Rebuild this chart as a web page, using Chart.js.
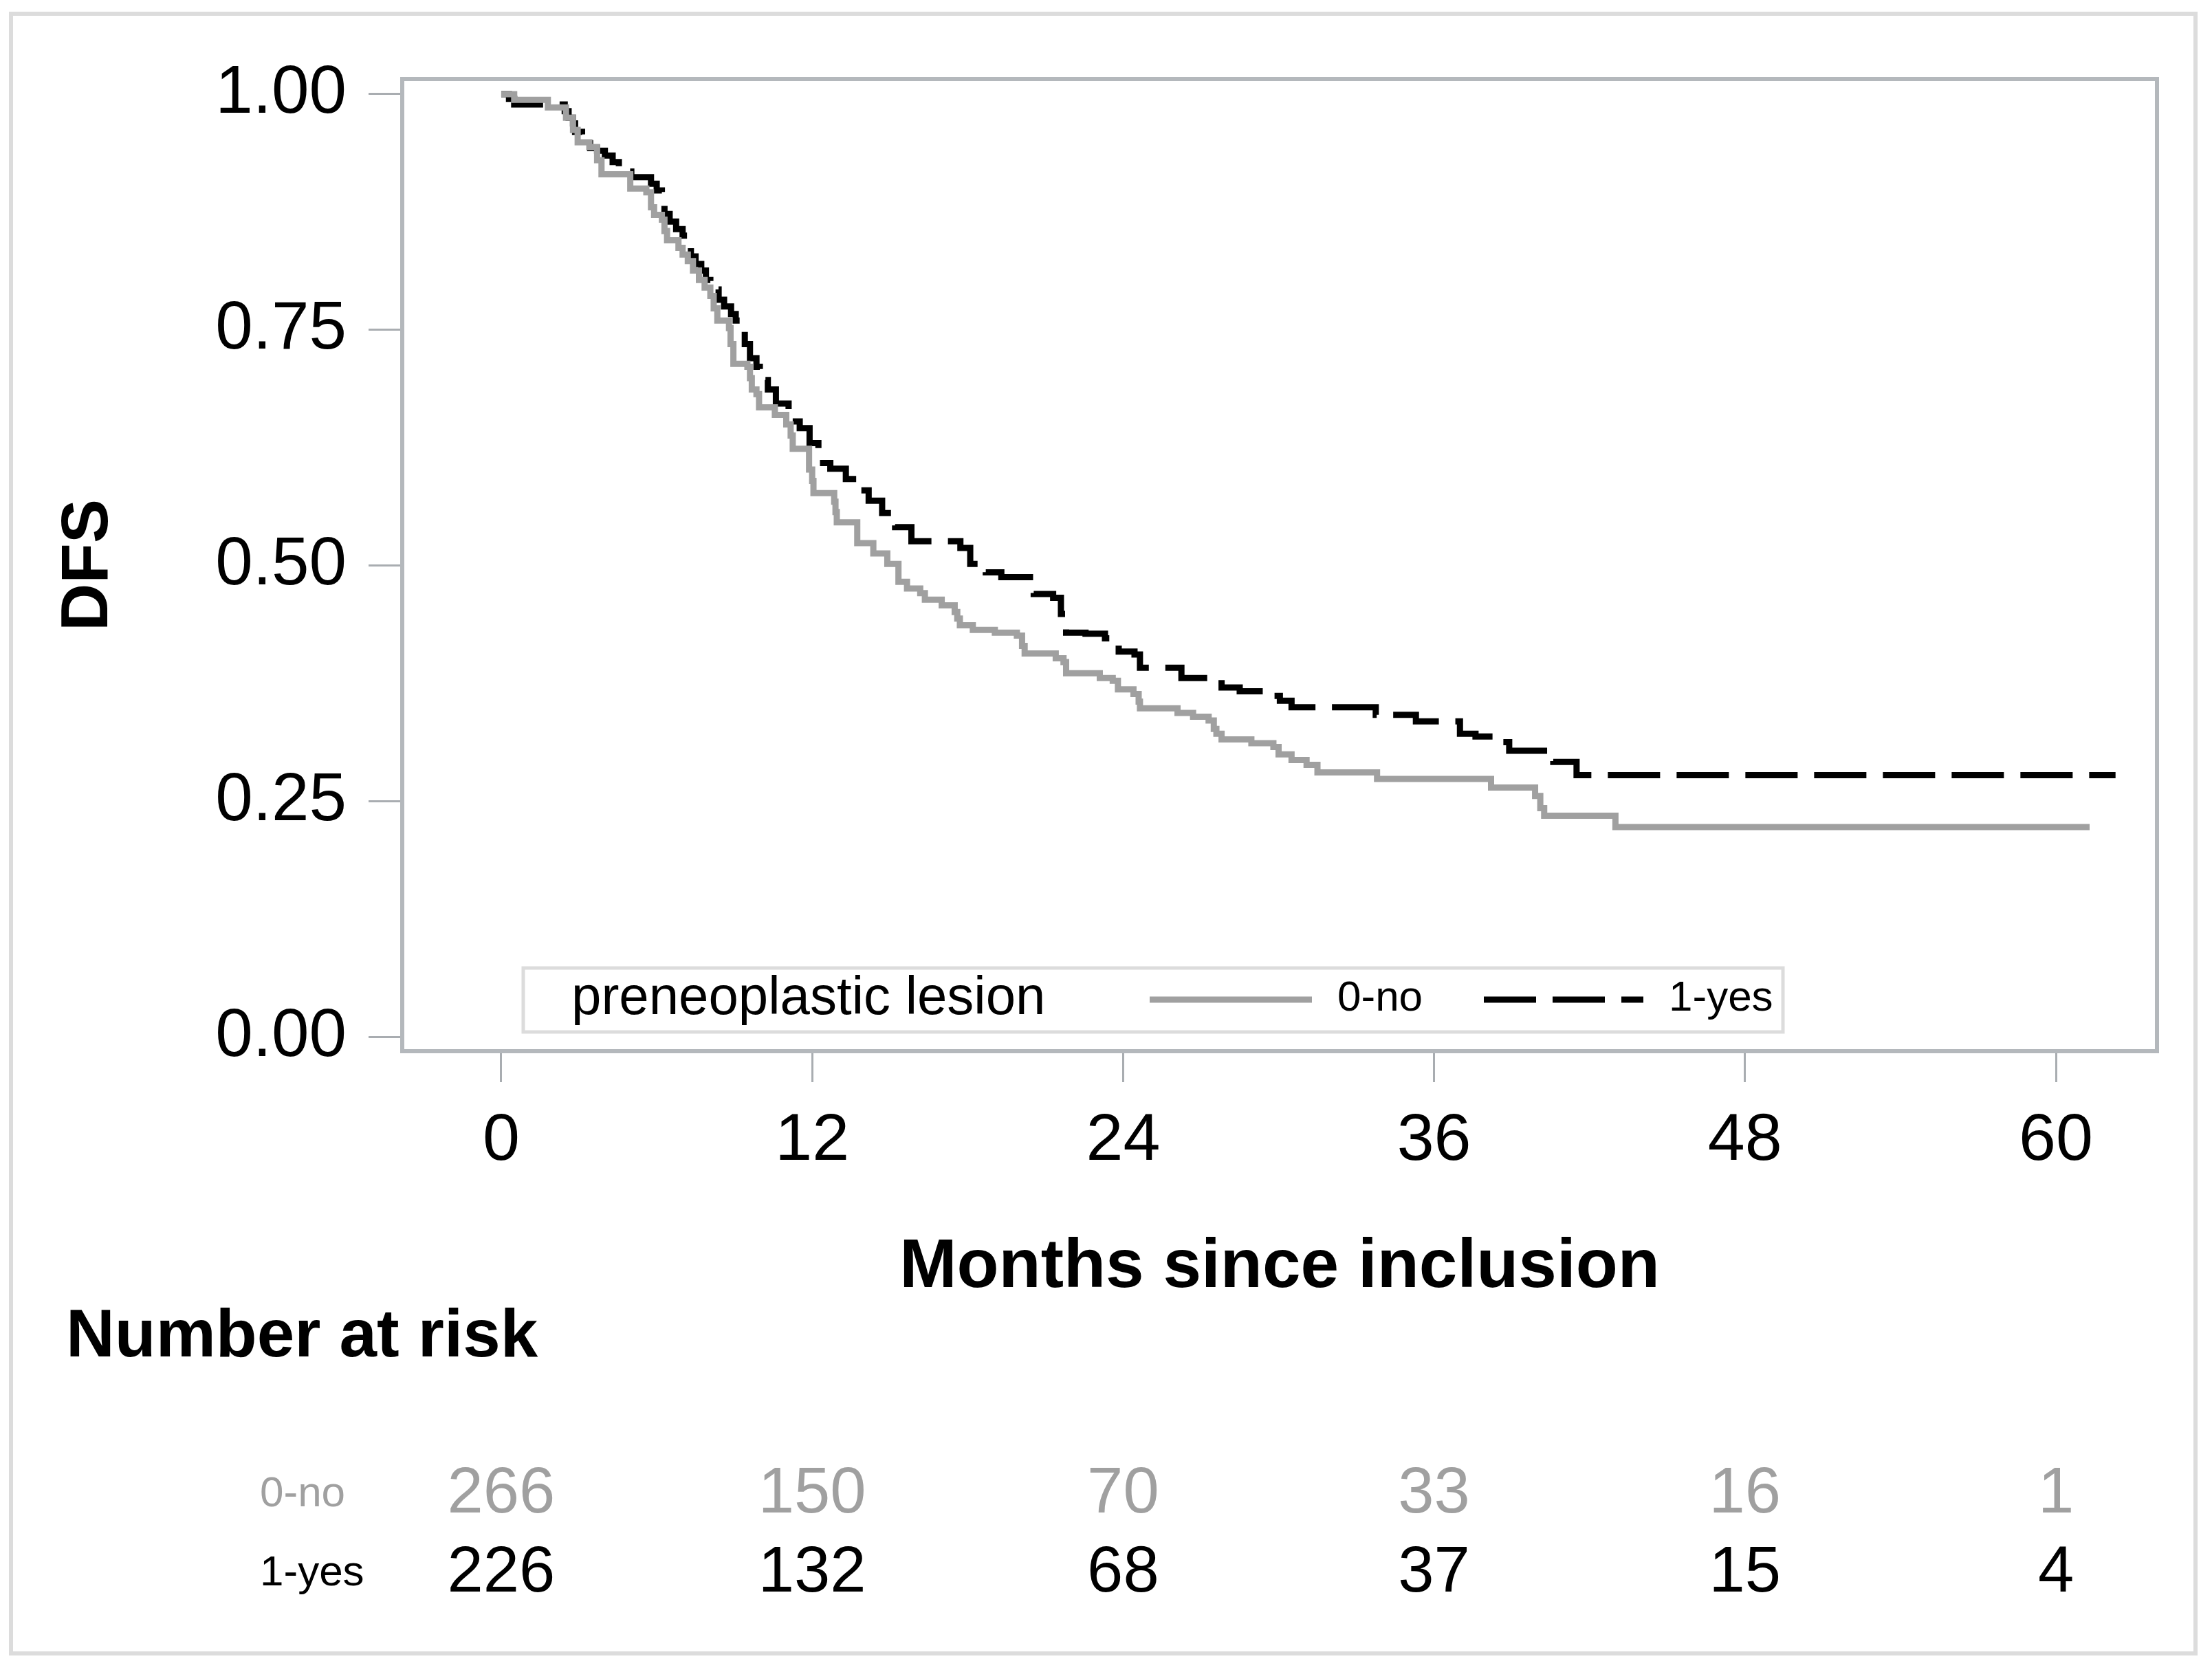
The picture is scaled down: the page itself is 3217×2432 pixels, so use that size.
<!DOCTYPE html>
<html>
<head>
<meta charset="utf-8">
<script src="https://cdn.jsdelivr.net/npm/chart.js@4/dist/chart.umd.min.js"></script>
<style>
  html, body { margin: 0; padding: 0; background: #fff; overflow: hidden; }
  canvas { display: block; }
</style>
</head>
<body>
<canvas id="km" width="3217" height="2432" style="width:3217px;height:2432px"></canvas>
<script>
// Kaplan-Meier steps: time in months, survival after the drop
const noTimes = [0, 0.5, 1.8, 2.5, 2.77, 2.95, 3.4, 3.7, 3.87, 4.98, 5.6, 5.78, 5.9, 6.2, 6.3, 6.4, 6.84, 7.0, 7.2, 7.4,
  7.63, 7.85, 8.07, 8.2, 8.34, 8.79, 8.85, 8.96, 9.5, 9.6, 9.67, 9.85, 9.95, 10.56, 11.0, 11.17, 11.25, 11.88, 12.0, 12.05,
  12.85, 12.9, 12.95, 13.74, 14.36, 14.9, 15.33, 15.66, 16.17, 16.35, 17.0, 17.5, 17.6, 17.7, 18.2, 19.05, 19.9, 20.1, 20.2, 21.4,
  21.7, 21.8, 23.1, 23.6, 23.8, 24.4, 24.6, 24.65, 26.1, 26.7, 27.3, 27.5, 27.6, 27.8, 28.95, 29.8, 30.0, 30.5, 31.08, 31.5,
  33.8, 38.2, 39.9, 40.1, 40.25, 43.0, 61.3];
const noSurv = [1.000, 0.994, 0.986, 0.975, 0.962, 0.949, 0.944, 0.930, 0.915, 0.900, 0.896, 0.880, 0.872, 0.867, 0.855, 0.845, 0.837, 0.830, 0.823, 0.813,
  0.803, 0.795, 0.786, 0.773, 0.760, 0.752, 0.735, 0.714, 0.711, 0.699, 0.687, 0.682, 0.668, 0.660, 0.650, 0.638, 0.624, 0.602, 0.590, 0.577,
  0.568, 0.557, 0.546, 0.524, 0.513, 0.502, 0.483, 0.476, 0.471, 0.464, 0.458, 0.451, 0.444, 0.437, 0.432, 0.429, 0.426, 0.415, 0.407, 0.402,
  0.398, 0.386, 0.381, 0.378, 0.369, 0.364, 0.356, 0.349, 0.344, 0.340, 0.336, 0.327, 0.322, 0.316, 0.312, 0.308, 0.300, 0.294, 0.289, 0.281,
  0.274, 0.265, 0.256, 0.243, 0.235, 0.223, 0.223];

const yesTimes = [0, 0.3, 0.5, 2.45, 2.6, 2.77, 2.85, 3.12, 3.3, 3.43, 3.7, 4.0, 4.3, 4.54, 5.02, 5.78, 6.0, 6.2, 6.3, 6.5,
  6.75, 7.0, 7.24, 7.32, 7.5, 7.72, 7.9, 8.07, 8.39, 8.6, 8.87, 9.05, 9.27, 9.4, 9.6, 9.85, 9.98, 10.29, 10.6, 11.09,
  11.52, 11.9, 12.24, 12.7, 13.3, 13.87, 14.18, 14.7, 15.2, 15.83, 17.72, 18.1, 18.7, 19.3, 20.55, 21.3, 21.6, 21.8, 22.55, 23.3,
  23.83, 24.44, 24.65, 26.25, 27.8, 28.5, 29.4, 30.05, 30.5, 33.75, 35.3, 37.0, 37.6, 38.4, 38.9, 40.6, 41.5, 62.3];
const yesSurv = [1.000, 0.995, 0.989, 0.982, 0.975, 0.969, 0.960, 0.954, 0.948, 0.943, 0.940, 0.935, 0.928, 0.918, 0.912, 0.905, 0.898, 0.891, 0.873, 0.865,
  0.857, 0.850, 0.844, 0.828, 0.820, 0.813, 0.803, 0.793, 0.782, 0.775, 0.767, 0.760, 0.750, 0.735, 0.720, 0.711, 0.697, 0.687, 0.672, 0.653,
  0.646, 0.630, 0.609, 0.603, 0.592, 0.580, 0.569, 0.556, 0.541, 0.526, 0.519, 0.502, 0.493, 0.488, 0.470, 0.466, 0.449, 0.429, 0.428, 0.423,
  0.409, 0.406, 0.392, 0.381, 0.371, 0.367, 0.362, 0.357, 0.350, 0.342, 0.335, 0.322, 0.319, 0.313, 0.304, 0.292, 0.278, 0.278];

const xTicks = [0, 12, 24, 36, 48, 60];
const yTicks = [0, 0.25, 0.5, 0.75, 1];
const groups = ['0-no', '1-yes'];
const riskNo = [266, 150, 70, 33, 16, 1];
const riskYes = [226, 132, 68, 37, 15, 4];

const GRAY = '#a0a0a0';
const FONT = '"Liberation Sans", Arial, Helvetica, sans-serif';
Chart.defaults.font.family = FONT;
Chart.defaults.color = '#000';

const toPoints = (ts, ss) => ts.map((t, i) => ({ x: t, y: ss[i] }));

const decor = {
  id: 'decor',
  afterDraw(chart) {
    const { ctx, chartArea: a } = chart;
    const x = chart.scales.x;
    ctx.save();

    // frame of the plot area
    ctx.strokeStyle = '#b4b8bc';
    ctx.lineWidth = 6;
    ctx.strokeRect(a.left, a.top, a.right - a.left, a.bottom - a.top);

    // outer frame of the figure
    ctx.strokeStyle = '#dcdcdc';
    ctx.lineWidth = 6;
    ctx.strokeRect(16, 20, 3177, 2385);

    // legend inside the plot
    ctx.strokeStyle = '#dcdcdc';
    ctx.lineWidth = 5;
    ctx.strokeRect(761, 1408, 1832, 93);
    ctx.fillStyle = '#000';
    ctx.textBaseline = 'middle';
    ctx.textAlign = 'left';
    ctx.font = '78px ' + FONT;
    ctx.fillText('preneoplastic lesion', 831, 1453);
    ctx.lineWidth = 9;
    ctx.strokeStyle = GRAY;
    ctx.beginPath(); ctx.moveTo(1672, 1454); ctx.lineTo(1908, 1454); ctx.stroke();
    ctx.strokeStyle = '#000';
    ctx.setLineDash([76, 24]);
    ctx.beginPath(); ctx.moveTo(2158, 1454); ctx.lineTo(2390, 1454); ctx.stroke();
    ctx.setLineDash([]);
    ctx.font = '62px ' + FONT;
    ctx.fillText(groups[0], 1945, 1453);
    ctx.fillText(groups[1], 2427, 1453);

    // number at risk table
    ctx.font = 'bold 98px ' + FONT;
    ctx.fillText('Number at risk', 96, 1946);
    const rows = [[riskNo, GRAY, 2174], [riskYes, '#000', 2289]];
    rows.forEach(([vals, col, y], r) => {
      ctx.fillStyle = col;
      ctx.textAlign = 'left';
      ctx.font = '62px ' + FONT;
      ctx.fillText(groups[r], 378, y);
      ctx.textAlign = 'center';
      ctx.font = '94px ' + FONT;
      vals.forEach((v, i) => ctx.fillText(String(v), x.getPixelForValue(xTicks[i]), y));
    });
    ctx.restore();
  }
};

new Chart(document.getElementById('km'), {
  type: 'line',
  data: {
    datasets: [
      { label: groups[0], data: toPoints(noTimes, noSurv), stepped: 'before', borderColor: GRAY,
        borderWidth: 9, pointRadius: 0, fill: false },
      { label: groups[1], data: toPoints(yesTimes, yesSurv), stepped: 'before', borderColor: '#000',
        borderWidth: 9, borderDash: [76, 24], pointRadius: 0, fill: false }
    ]
  },
  options: {
    responsive: false,
    animation: false,
    devicePixelRatio: 1,
    layout: { padding: { left: 16, top: 115, right: 80, bottom: 533 } },
    plugins: { legend: { display: false }, tooltip: { enabled: false } },
    scales: {
      x: {
        type: 'linear', min: -3.82, max: 63.9,
        afterBuildTicks: (s) => { s.ticks = xTicks.map(v => ({ value: v })); },
        afterFit: (s) => { s.height = 370; },
        border: { display: false },
        grid: { drawOnChartArea: false, drawTicks: true, tickLength: 45, color: '#a9adb1', lineWidth: 3 },
        ticks: { autoSkip: false, maxRotation: 0, padding: 28, font: { size: 97 }, callback: v => String(v) },
        title: { display: true, text: 'Months since inclusion', font: { size: 100, weight: 'bold', lineHeight: 1 },
          padding: { top: 0, bottom: 5 } }
      },
      y: {
        type: 'linear', min: -0.0146, max: 1.016,
        afterBuildTicks: (s) => { s.ticks = yTicks.map(v => ({ value: v })); },
        afterFit: (s) => { s.width = 569; },
        border: { display: false },
        grid: { drawOnChartArea: false, drawTicks: true, tickLength: 49, color: '#a9adb1', lineWidth: 3 },
        ticks: { padding: 32, font: { size: 98 }, callback: v => v.toFixed(2) },
        title: { display: true, text: 'DFS', font: { size: 96, weight: 'bold', lineHeight: 1 },
          padding: { top: 66, bottom: 0 } }
      }
    }
  },
  plugins: [decor]
});
</script>
</body>
</html>
